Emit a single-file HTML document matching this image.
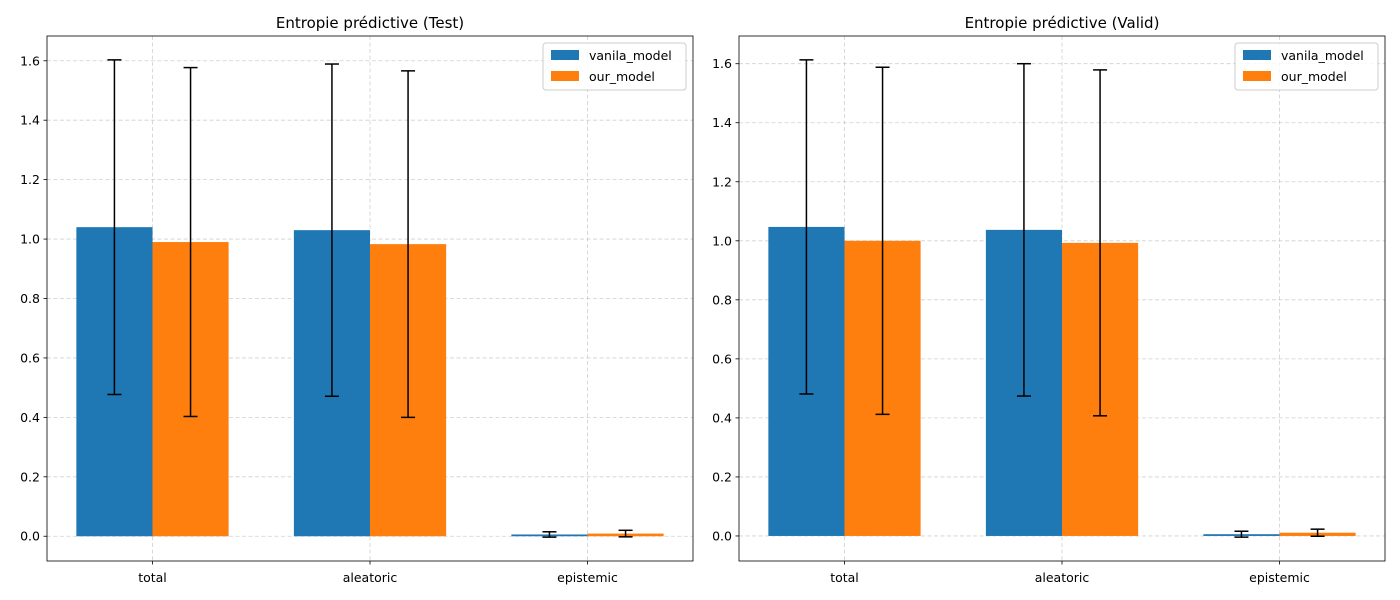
<!DOCTYPE html>
<html><head><meta charset="utf-8"><style>
html,body{margin:0;padding:0;background:#fff;}
svg{display:block;font-family:"DejaVu Sans","Liberation Sans",sans-serif;}
</style></head><body>
<svg id="fig" width="1400" height="600" viewBox="0 0 1400 600"></svg>
<script>
const categories = ["total","aleatoric","epistemic"];
const seriesNames = ["vanila_model","our_model"];
const testVanilaMean = [1.04, 1.03, 0.006];
const testVanilaStd = [0.563, 0.559, 0.009];
const testOurMean = [0.99, 0.983, 0.009];
const testOurStd = [0.587, 0.583, 0.011];
const validVanilaMean = [1.047, 1.037, 0.006];
const validVanilaStd = [0.566, 0.563, 0.010];
const validOurMean = [1.0, 0.993, 0.011];
const validOurStd = [0.588, 0.586, 0.012];
const yTicks = [0.0,0.2,0.4,0.6,0.8,1.0,1.2,1.4,1.6];
const colors = ["#1f77b4","#ff7f0e"];
const NS="http://www.w3.org/2000/svg";
const svg=document.getElementById('fig');
function mk(tag,attrs,parent){const e=document.createElementNS(NS,tag);for(const k in attrs)e.setAttribute(k,attrs[k]);(parent||svg).appendChild(e);return e;}

function panel(px,title,means,stds,tag){
  const L=px,R=px+646,T=36,B=561;
  const g=mk('g',{});
  
  
  let lo=Infinity,hi=-Infinity;
  means.forEach((m,s)=>m.forEach((v,i)=>{lo=Math.min(lo,0,v-stds[s][i]);hi=Math.max(hi,v+stds[s][i]);}));
  const span=hi-lo; const y0=lo-0.05*span, y1=hi+0.05*span;
  const y=v=>B-(v-y0)/(y1-y0)*(B-T);
  const w=0.35;
  const x0=-0.35-0.05*2.7, x1=2.35+0.05*2.7;
  const x=v=>L+(v-x0)/(x1-x0)*(R-L);
  // grid
  yTicks.forEach(t=>{const l=mk('line',{x1:L,x2:R,y1:y(t),y2:y(t),stroke:'#b0b0b0','stroke-opacity':0.6,'stroke-dasharray':'4,2.5','stroke-width':0.8},g);
    });
  categories.forEach((c,i)=>{const l=mk('line',{x1:x(i),x2:x(i),y1:T,y2:B,stroke:'#b0b0b0','stroke-opacity':0.6,'stroke-dasharray':'4,2.5','stroke-width':0.8},g);
    });
  // bars
  means.forEach((arr,s)=>arr.forEach((v,i)=>{
    const cx=x(i+(s===0?-w/2:w/2));
    const bx=x(i+(s===0?-w:0)), bw=x(w)-x(0);
    const r=mk('rect',{x:bx,y:Math.min(y(v),y(0)),width:bw,height:Math.abs(y(0)-y(v)),fill:colors[s]},g);
    
    
  }));
  means.forEach((arr,s)=>arr.forEach((v,i)=>{
    const cx=x(i+(s===0?-w/2:w/2));
    const a=y(v+stds[s][i]), b=y(v-stds[s][i]);
    const eg=mk('g',{stroke:'#000','stroke-width':1.5},g);
    
    
    mk('line',{x1:cx,x2:cx,y1:a,y2:b},eg);
    mk('line',{x1:cx-7,x2:cx+7,y1:a,y2:a},eg);
    mk('line',{x1:cx-7,x2:cx+7,y1:b,y2:b},eg);
  }));
  // axes frame
  const f=mk('rect',{x:L,y:T,width:R-L,height:B-T,fill:'none',stroke:'#000','stroke-width':0.8},g);
  
  yTicks.forEach(t=>{mk('line',{x1:L-3.5,x2:L,y1:y(t),y2:y(t),stroke:'#000','stroke-width':0.8},g);
    const tx=mk('text',{x:L-7,y:y(t)+4.5,'text-anchor':'end','font-size':12.5,fill:'#000'},g);tx.textContent=t.toFixed(1);
    });
  categories.forEach((c,i)=>{mk('line',{x1:x(i),x2:x(i),y1:B,y2:B+3.5,stroke:'#000','stroke-width':0.8},g);
    const tx=mk('text',{x:x(i),y:B+21,'text-anchor':'middle','font-size':12.5,fill:'#000'},g);tx.textContent=c;
    });
  const tt=mk('text',{x:(L+R)/2,y:28,'text-anchor':'middle','font-size':15,fill:'#000'},g);tt.textContent=title;
  
  // legend
  const lg=mk('g',{},g);
  
  mk('rect',{x:R-150,y:43,width:143,height:47,rx:3,fill:'#fff','fill-opacity':0.8,stroke:'#ccc'},lg);
  seriesNames.forEach((n,s)=>{
    mk('rect',{x:R-142,y:50+s*21,width:28,height:10,fill:colors[s]},lg);
    const t=mk('text',{x:R-104,y:60+s*21,'font-size':12.5,fill:'#000'},lg);t.textContent=n;
    
  });
}
panel(47,'Entropie prédictive (Test)',[testVanilaMean,testOurMean],[testVanilaStd,testOurStd],'test');
panel(739,'Entropie prédictive (Valid)',[validVanilaMean,validOurMean],[validVanilaStd,validOurStd],'valid');
</script>
</body></html>
